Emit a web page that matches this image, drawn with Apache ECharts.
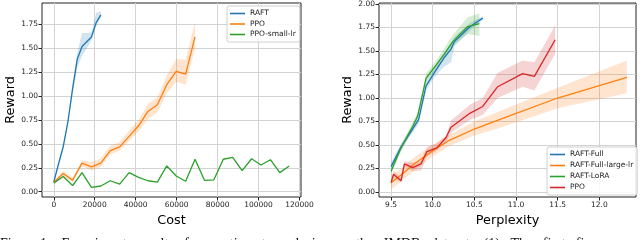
<!DOCTYPE html>
<html><head><meta charset="utf-8">
<script src="https://cdn.jsdelivr.net/npm/echarts@6/dist/echarts.min.js"></script>
<style>html,body{margin:0;padding:0;background:#fff}#c{width:640px;height:240px}</style>
</head><body><div id="c"></div>
<script>
// ---------- Left panel: Reward vs Cost ----------
const costTicks = [0, 20000, 40000, 60000, 80000, 100000, 120000];
const rewardTicksL = [0, 0.25, 0.5, 0.75, 1.0, 1.25, 1.5, 1.75];

const raftCost = [0, 2300, 4600, 6900, 9200, 11500, 13800, 16100, 18400, 20700, 23000];
const raftReward = [0.10, 0.29, 0.47, 0.73, 1.08, 1.39, 1.52, 1.57, 1.62, 1.77, 1.85];
const raftLo = [0.09, 0.27, 0.44, 0.70, 1.01, 1.30, 1.42, 1.50, 1.58, 1.73, 1.82];
const raftHi = [0.11, 0.31, 0.50, 0.76, 1.13, 1.46, 1.66, 1.66, 1.67, 1.87, 1.89];

const ppoCost = [0, 4600, 9200, 13800, 18400, 23000, 27600, 32200, 36800, 41400, 46000, 50600, 55200, 59800, 64400, 69000];
const ppoReward = [0.10, 0.19, 0.12, 0.30, 0.26, 0.30, 0.43, 0.47, 0.58, 0.69, 0.84, 0.91, 1.12, 1.26, 1.23, 1.62];
const ppoLo = [0.09, 0.16, 0.10, 0.27, 0.22, 0.26, 0.39, 0.43, 0.53, 0.63, 0.76, 0.83, 1.03, 1.15, 1.12, 1.50];
const ppoHi = [0.11, 0.22, 0.15, 0.33, 0.31, 0.35, 0.48, 0.52, 0.64, 0.75, 0.92, 0.99, 1.22, 1.39, 1.38, 1.78];

const smallCost = [0, 4600, 9200, 13800, 18400, 23000, 27600, 32200, 36800, 41400, 46000, 50600, 55200, 59800, 64400, 69000, 73600, 78200, 82800, 87400, 92000, 96600, 101200, 105800, 110400, 115000];
const smallReward = [0.09, 0.16, 0.065, 0.20, 0.045, 0.06, 0.115, 0.08, 0.20, 0.15, 0.115, 0.10, 0.27, 0.165, 0.11, 0.34, 0.12, 0.125, 0.34, 0.36, 0.22, 0.345, 0.28, 0.335, 0.20, 0.27];

// ---------- Right panel: Reward vs Perplexity ----------
const pplTicks = [9.5, 10.0, 10.5, 11.0, 11.5, 12.0];
const rewardTicksR = [0, 0.25, 0.5, 0.75, 1.0, 1.25, 1.5, 1.75, 2.0];

const fullPpl = [9.5, 9.62, 9.73, 9.83, 9.92, 10.02, 10.13, 10.22, 10.26, 10.45, 10.6];
const fullReward = [0.27, 0.48, 0.63, 0.77, 1.13, 1.27, 1.42, 1.52, 1.60, 1.76, 1.85];
const fullLo = [0.23, 0.44, 0.60, 0.72, 1.08, 1.22, 1.33, 1.38, 1.55, 1.72, 1.83];
const fullHi = [0.31, 0.52, 0.67, 0.80, 1.17, 1.31, 1.47, 1.57, 1.65, 1.80, 1.87];

const largePpl = [9.5, 9.62, 9.78, 10.0, 10.2, 10.5, 10.8, 11.5, 12.33];
const largeReward = [0.10, 0.18, 0.30, 0.44, 0.55, 0.67, 0.77, 1.00, 1.22];
const largeLo = [0.03, 0.11, 0.23, 0.38, 0.49, 0.60, 0.68, 0.89, 1.05];
const largeHi = [0.17, 0.25, 0.37, 0.50, 0.61, 0.75, 0.86, 1.11, 1.40];

const loraPpl = [9.5, 9.62, 9.76, 9.82, 9.92, 10.04, 10.14, 10.24, 10.42, 10.56];
const loraReward = [0.22, 0.47, 0.70, 0.81, 1.21, 1.35, 1.47, 1.60, 1.76, 1.79];
const loraLo = [0.19, 0.44, 0.67, 0.78, 1.17, 1.30, 1.42, 1.55, 1.68, 1.66];
const loraHi = [0.25, 0.50, 0.74, 0.85, 1.26, 1.40, 1.53, 1.67, 1.86, 1.90];

const ppoPpl = [9.5, 9.53, 9.62, 9.66, 9.76, 9.86, 9.93, 10.05, 10.16, 10.22, 10.45, 10.6, 10.78, 11.08, 11.22, 11.47];
const ppoRewardR = [0.10, 0.19, 0.12, 0.30, 0.26, 0.30, 0.43, 0.47, 0.58, 0.69, 0.84, 0.91, 1.12, 1.26, 1.23, 1.62];
const ppoLoR = [0.07, 0.15, 0.10, 0.27, 0.22, 0.23, 0.38, 0.44, 0.53, 0.63, 0.77, 0.82, 1.00, 1.12, 1.08, 1.47];
const ppoHiR = [0.13, 0.23, 0.15, 0.33, 0.31, 0.33, 0.48, 0.52, 0.60, 0.76, 0.93, 1.00, 1.27, 1.40, 1.38, 1.77];

const captionText = 'Figure 1:   Experiment   results   for   sentiment   analysis   on   the   IMDB   dataset.   (1)   The   first   fi';

const C = {blue:'#1f77b4', orange:'#ff7f0e', green:'#2ca02c', red:'#d62728'};
const FONT = 'DejaVu Sans';

function rgba(hex, a){
  const n = parseInt(hex.slice(1), 16);
  return 'rgba(' + (n>>16&255) + ',' + (n>>8&255) + ',' + (n&255) + ',' + a + ')';
}

function xAxis(gi, min, max, ticks, fmt, name){
  return {type:'value', gridIndex:gi, min:min, max:max, name:name, nameLocation:'middle', nameGap:10,
    nameTextStyle:{fontSize:12.8, color:'#000', fontFamily:FONT},
    axisLine:{show:false, onZero:false},
    axisTick:{show:true, inside:false, length:3.5, lineStyle:{color:'#222', width:1}, customValues:ticks},
    axisLabel:{show:true, customValues:ticks, formatter:fmt, fontSize:7.5, color:'#222', margin:4, fontFamily:FONT},
    splitLine:{show:true, lineStyle:{color:'#d3d3d3', width:1}}};
}
function yAxis(gi, min, max, ticks, name, gap){
  return {type:'value', gridIndex:gi, min:min, max:max, name:name, nameLocation:'middle', nameGap:gap,
    nameTextStyle:{fontSize:12.8, color:'#000', fontFamily:FONT},
    axisLine:{show:false, onZero:false},
    axisTick:{show:true, inside:false, length:3.5, lineStyle:{color:'#222', width:1}, customValues:ticks},
    axisLabel:{show:true, customValues:ticks, formatter:function(v){return v.toFixed(2);}, fontSize:7.5, color:'#222', margin:4, fontFamily:FONT},
    splitLine:{show:true, lineStyle:{color:'#d3d3d3', width:1}}};
}
function band(ai, xs, lo, hi, color){
  return {type:'custom', xAxisIndex:ai, yAxisIndex:ai, silent:true, z:1, clip:true,
    data: xs.map(function(x,i){return [x, lo[i], hi[i]];}),
    encode:{x:0, y:[1,2]},
    renderItem:function(params, api){
      if (params.dataIndex !== 0) return null;
      const pts = [];
      for (let i=0;i<xs.length;i++) pts.push(api.coord([xs[i], hi[i]]));
      for (let i=xs.length-1;i>=0;i--) pts.push(api.coord([xs[i], lo[i]]));
      return {type:'polygon', shape:{points:pts}, style:{fill:rgba(color,0.2), stroke:null}};
    }};
}
function line(ai, name, xs, ys, color){
  return {type:'line', name:name, xAxisIndex:ai, yAxisIndex:ai, z:3, symbol:'none', silent:true,
    data: xs.map(function(x,i){return [x, ys[i]];}),
    lineStyle:{color:color, width:1.3}, itemStyle:{color:color}};
}
const legendCommon = {orient:'vertical', selectedMode:false, icon:'rect',
  itemWidth:15, itemHeight:1.6, padding:[3,4,3,3],
  backgroundColor:'rgba(255,255,255,0.85)', borderColor:'#d0d0d0', borderWidth:1, borderRadius:2,
  textStyle:{fontSize:7.5, color:'#222', fontFamily:FONT, lineHeight:9}};

const chart = echarts.init(document.getElementById('c'), null, {renderer:'canvas'});
chart.setOption({
  animation:false,
  backgroundColor:'#fff',
  textStyle:{fontFamily:FONT},
  grid:[
    {left:42, top:3, width:259, height:194, show:true, borderColor:'#222', borderWidth:1, backgroundColor:'transparent'},
    {left:379, top:3, width:257, height:194, show:true, borderColor:'#222', borderWidth:1, backgroundColor:'transparent'}
  ],
  xAxis:[
    xAxis(0, -5750, 120750, costTicks, function(v){return String(v);}, 'Cost'),
    xAxis(1, 9.355, 12.44, pplTicks, function(v){return v.toFixed(1);}, 'Perplexity')
  ],
  yAxis:[
    yAxis(0, -0.055, 1.975, rewardTicksL, 'Reward', 24),
    yAxis(1, -0.053, 2.01, rewardTicksR, 'Reward', 23)
  ],
  legend:[
    Object.assign({}, legendCommon, {left:227, top:6, itemGap:1.5,
      data:['RAFT','PPO','PPO-small-lr']}),
    Object.assign({}, legendCommon, {left:547, top:147, itemGap:2,
      data:['RAFT-Full','RAFT-Full-large-lr','RAFT-LoRA',
            {name:'PPO', itemStyle:{color:C.red}}]})
  ],
  graphic:[
    {type:'text', x:0, y:237.5, silent:true,
     style:{text:captionText, font:'14px "Liberation Serif"', fill:'#111', verticalAlign:'top', align:'left'}}
  ],
  series:[
    band(0, raftCost, raftLo, raftHi, C.blue),
    band(0, ppoCost, ppoLo, ppoHi, C.orange),
    line(0, 'RAFT', raftCost, raftReward, C.blue),
    line(0, 'PPO', ppoCost, ppoReward, C.orange),
    line(0, 'PPO-small-lr', smallCost, smallReward, C.green),
    band(1, fullPpl, fullLo, fullHi, C.blue),
    band(1, largePpl, largeLo, largeHi, C.orange),
    band(1, loraPpl, loraLo, loraHi, C.green),
    band(1, ppoPpl, ppoLoR, ppoHiR, C.red),
    line(1, 'RAFT-Full', fullPpl, fullReward, C.blue),
    line(1, 'RAFT-Full-large-lr', largePpl, largeReward, C.orange),
    line(1, 'RAFT-LoRA', loraPpl, loraReward, C.green),
    line(1, 'PPO', ppoPpl, ppoRewardR, C.red)
  ]
});
</script>
</body></html>
